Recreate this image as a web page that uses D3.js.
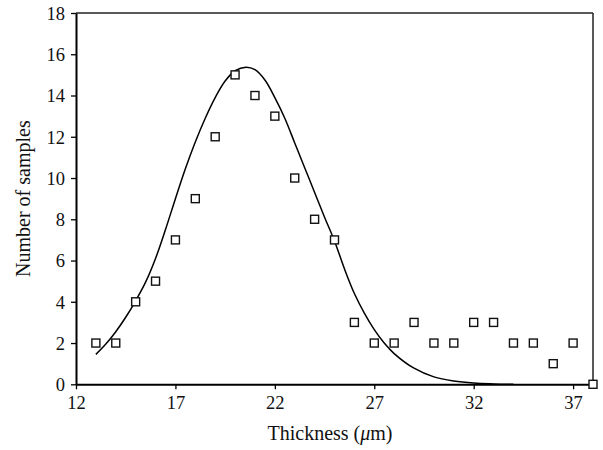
<!DOCTYPE html>
<html>
<head>
<meta charset="utf-8">
<script src="https://cdn.jsdelivr.net/npm/d3@7"></script>
<style>
  html, body { margin: 0; padding: 0; background: #fff; }
  svg { display: block; }
  text { font-family: "Liberation Serif", "DejaVu Serif", serif; fill: #111; }
</style>
</head>
<body>
<div id="chart"></div>
<script>
// Measured thickness counts (one sample bin per micrometre)
const thickness = [13, 14, 15, 16, 17, 18, 19, 20, 21, 22, 23, 24, 25, 26, 27, 28, 29, 30, 31, 32, 33, 34, 35, 36, 37, 38];
const samples   = [2, 2, 4, 5, 7, 9, 12, 15, 14, 13, 10, 8, 7, 3, 2, 2, 3, 2, 2, 3, 3, 2, 2, 1, 2, 0];

// Fitted distribution curve
const fitX = [13, 13.5, 14, 14.5, 15, 15.5, 16, 16.5, 17, 17.5, 18, 18.5, 19, 19.5, 20, 20.55, 21, 21.5, 22, 22.5, 23, 23.5, 24, 24.5, 25, 25.5, 26, 26.5, 27, 27.5, 28, 29, 30, 31, 32, 33, 34];
const fitY = [1.45, 1.95, 2.55, 3.25, 4.05, 4.95, 6.1, 7.5, 9.0, 10.45, 11.75, 12.9, 13.9, 14.7, 15.2, 15.37, 15.25, 14.75, 13.9, 12.9, 11.7, 10.5, 9.3, 8.1, 6.95, 5.6, 4.4, 3.45, 2.65, 2.0, 1.49, 0.78, 0.36, 0.16, 0.06, 0.02, 0.0];

const xTicks = [12, 17, 22, 27, 32, 37];
const yTicks = [0, 2, 4, 6, 8, 10, 12, 14, 16, 18];

const W = 603, H = 450;
const margin = { left: 76, right: 10, top: 13, bottom: 66 };

const svg = d3.select("#chart").append("svg")
  .attr("width", W).attr("height", H);

const x = d3.scaleLinear().domain([12, 38]).range([margin.left, W - margin.right]);
const y = d3.scaleLinear().domain([0, 18]).range([H - margin.bottom + 0.3, margin.top]);

// frame: top and right borders
svg.append("line")
  .attr("x1", x(12)).attr("x2", x(38)).attr("y1", y(18)).attr("y2", y(18))
  .attr("stroke", "#222").attr("stroke-width", 1.5);
svg.append("line")
  .attr("x1", x(38)).attr("x2", x(38)).attr("y1", y(18)).attr("y2", y(0))
  .attr("stroke", "#222").attr("stroke-width", 1.5);

// axes
const xAxis = svg.append("g")
  .attr("transform", `translate(0,${y(0)})`)
  .call(d3.axisBottom(x).tickValues(xTicks).tickSize(5).tickPadding(7).tickSizeOuter(0));
const yAxis = svg.append("g")
  .attr("transform", `translate(${x(12)},0)`)
  .call(d3.axisLeft(y).tickValues(yTicks).tickSize(5).tickPadding(6).tickSizeOuter(0));

[xAxis, yAxis].forEach(g => {
  g.select(".domain").attr("stroke", "#000").attr("stroke-width", 2);
  g.selectAll(".tick line").attr("stroke", "#000").attr("stroke-width", 1.3);
  g.selectAll(".tick text")
    .attr("font-family", "'Liberation Serif', serif")
    .attr("font-size", 18.5).attr("fill", "#111");
});
yAxis.selectAll(".tick text").attr("dy", "0.34em");

// fitted curve
const line = d3.line()
  .x((d, i) => x(fitX[i]))
  .y(d => y(d))
  .curve(d3.curveCatmullRom.alpha(0.5));
svg.append("path")
  .datum(fitY)
  .attr("d", line)
  .attr("fill", "none")
  .attr("stroke", "#000")
  .attr("stroke-width", 1.5);

// sample markers
const size = 8;
svg.append("g").selectAll("rect")
  .data(samples)
  .join("rect")
  .attr("x", (d, i) => x(thickness[i]) - size / 2)
  .attr("y", d => y(d) - size / 2)
  .attr("width", size).attr("height", size)
  .attr("fill", "#fff")
  .attr("stroke", "#111")
  .attr("stroke-width", 1.4);

// axis titles
const xTitle = svg.append("text")
  .attr("x", 330).attr("y", 440)
  .attr("text-anchor", "middle")
  .attr("font-size", 20);
xTitle.append("tspan").text("Thickness (");
xTitle.append("tspan").attr("font-style", "italic").text("\u03bc");
xTitle.append("tspan").text("m)");

svg.append("text")
  .attr("transform", `translate(30,${(y(0) + y(18)) / 2}) rotate(-90)`)
  .attr("text-anchor", "middle")
  .attr("font-size", 20)
  .text("Number of samples");
</script>
</body>
</html>
